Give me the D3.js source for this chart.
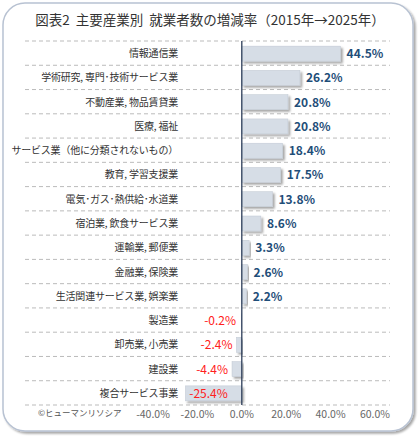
<!DOCTYPE html><html><head><meta charset="utf-8"><script src="https://cdn.jsdelivr.net/npm/d3@7"></script>
<style>body{margin:0;background:#fff}text{font-family:"Noto Sans CJK JP","Noto Sans",sans-serif;white-space:pre}</style></head><body><svg id="c" width="420" height="440"></svg>
<script>
const categories=["情報通信業","学術研究, 専門･技術サービス業","不動産業, 物品賃貸業","医療, 福祉","サービス業（他に分類されないもの）","教育, 学習支援業","電気･ガス･熱供給･水道業","宿泊業, 飲食サービス業","運輸業, 郵便業","金融業, 保険業","生活関連サービス業, 娯楽業","製造業","卸売業, 小売業","建設業","複合サービス事業"];
const values=[44.5,26.2,20.8,20.8,18.4,17.5,13.8,8.6,3.3,2.6,2.2,-0.2,-2.4,-4.4,-25.4];
const ticks=[-40,-20,0,20,40,60];
const svg=d3.select("#c");
const defs=svg.append("defs");
const f=defs.append("filter").attr("id","sh").attr("x","-10%").attr("y","-10%").attr("width","130%").attr("height","140%");
f.append("feDropShadow").attr("dx",2).attr("dy",2).attr("stdDeviation",1.2).attr("flood-color","#000").attr("flood-opacity",0.35);
svg.append("rect").attr("x",3).attr("y",3).attr("width",410).attr("height",428).attr("rx",22).attr("fill","#fff").attr("stroke","#b8c2d2").attr("stroke-width",1.5).attr("filter","url(#sh)");
svg.append("text").attr("x",210).attr("y",25).attr("text-anchor","middle").attr("font-size",13.5).attr("fill","#333").text("図表2  主要産業別  就業者数の増減率（2015年→2025年）");
const x=d3.scaleLinear().domain([-40,60]).range([153,375]);
const y=d3.scaleBand().domain(categories).range([41,405]);
const g=svg.append("g");
const lines=d3.range(categories.length+1).map(i=>41+i*y.step());
g.selectAll("line.g").data(lines).join("line").attr("x1",25).attr("x2",390).attr("y1",d=>d).attr("y2",d=>d).attr("stroke","#bbb").attr("stroke-dasharray","4,3");
g.selectAll("rect.b").data(values).join("rect").attr("x",d=>x(Math.min(0,d))).attr("width",d=>Math.abs(x(d)-x(0))).attr("y",(d,i)=>y(categories[i])+y.bandwidth()/2-7).attr("height",15).attr("fill","#d6dde6").attr("stroke","#c0c8d2").attr("stroke-width",0.5).attr("filter","url(#sh)");
svg.append("line").attr("x1",x(0)).attr("x2",x(0)).attr("y1",41).attr("y2",405).attr("stroke","#2d3e5a").attr("stroke-width",1.3);
g.selectAll("text.c").data(categories).join("text").attr("x",178).attr("y",d=>y(d)+y.bandwidth()/2+4).attr("text-anchor","end").attr("font-size",10).attr("letter-spacing",-0.2).attr("fill","#333").text(d=>d);
g.selectAll("text.v").data(values).join("text").attr("y",(d,i)=>y(categories[i])+y.bandwidth()/2+5)
 .attr("x",d=>d>=0?x(d)+6:(x(0)-x(d)>40?x(0)-14:Math.min(x(d)-4,236)))
 .attr("text-anchor",d=>d>=0?"start":"end").attr("font-size",12).attr("font-weight",d=>d>=0?"bold":"normal")
 .attr("fill",d=>d>=0?"#1f4e79":"#ff2020").text(d=>d.toFixed(1)+"%");
g.selectAll("text.t").data(ticks).join("text").attr("x",d=>x(d)).attr("y",418).attr("text-anchor","middle").attr("font-size",10.5).attr("fill","#666").text(d=>d.toFixed(1)+"%");
svg.append("text").attr("x",38).attr("y",416).attr("font-size",8.5).attr("fill","#555").text("©ヒューマンリソシア");
</script></body></html>
